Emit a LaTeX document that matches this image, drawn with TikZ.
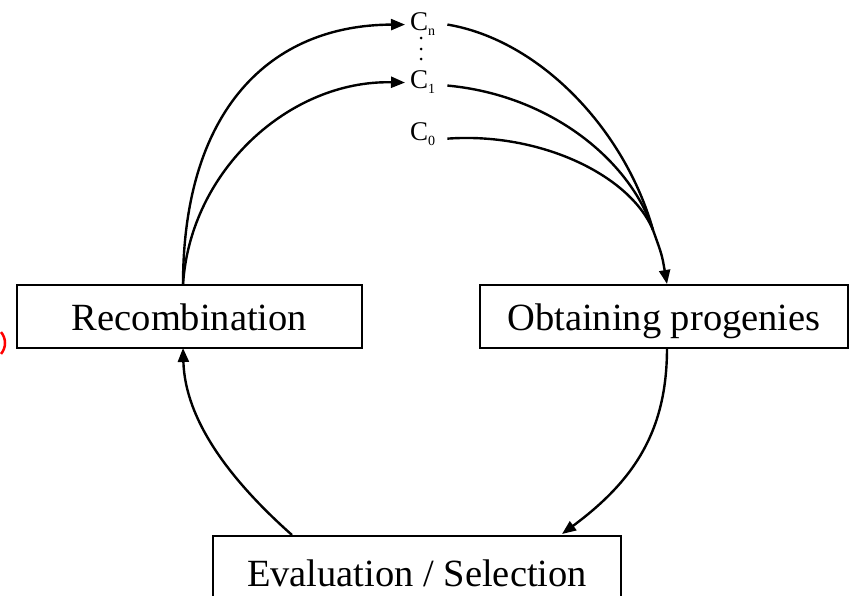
\documentclass[tikz,border=0pt]{standalone}
\usepackage{fontspec}
\setmainfont{Liberation Serif}
\usetikzlibrary{arrows.meta}
\begin{document}
\begin{tikzpicture}[x=1pt,y=-1pt,
  box/.style={draw,line width=2pt,inner sep=0pt,text height=30pt,text depth=3pt,font=\fontsize{38.5}{40}\selectfont},
  clab/.style={inner sep=0pt,anchor=base west,font=\fontsize{27}{28}\selectfont},
  dot/.style={circle,fill,inner sep=0pt,minimum size=3pt},
  conn/.style={line width=2.4pt},
  arr/.style={conn,-{Triangle[length=14pt,width=11pt]}}]
\useasboundingbox (0,0) rectangle (854,595);
\clip (0,0) rectangle (854,595);
% boxes
\node[box,minimum width=345pt,minimum height=63pt] (rec) at (189.5,316.5) {Recombination};
\node[box,minimum width=368pt,minimum height=63pt] (obt) at (664,316.5) {Obtaining progenies};
\node[box,minimum width=408pt,minimum height=85pt,anchor=north,text depth=15pt] (eval) at (417,535) {Evaluation / Selection};
% C labels
\newcommand{\mysub}[1]{\raisebox{-5pt}{\fontsize{14}{14}\selectfont #1}}
\node[clab] (cn) at (410,30) {C\mysub{n}};
\node[clab] (c1) at (410,88) {C\mysub{1}};
\node[clab] (c0) at (410,140) {C\mysub{0}};
\node[dot] (d1) at (421,38) {};
\node[dot] (d2) at (421,49) {};
\node[dot] (d3) at (421,59) {};
% connectors
\coordinate (rtop) at (183,285);
\coordinate (m) at (653,230);
\draw[arr] (rtop) .. controls (183,110) and (270,25) .. ([xshift=-5pt,yshift=-1pt]cn.west);
\draw[arr] (rtop) .. controls (190,170) and (290,80) .. ([xshift=-5pt,yshift=-1pt]c1.west);
\draw[conn] ([xshift=12pt,yshift=-1pt]cn.east) .. controls (540,40) and (625,130) .. (m);
\draw[conn] ([xshift=12pt,yshift=-4pt]c1.east) .. controls (550,95) and (630,160) .. (m);
\draw[conn] ([xshift=12pt,yshift=-5pt]c0.east) .. controls (540,132) and (630,175) .. (m);
\draw[arr] (m) .. controls (662,255) .. ([xshift=3pt]obt.north);
\coordinate (obot) at (667,348);
\coordinate (etr) at (562,534);
\coordinate (etl) at (292,535);
\coordinate (rbot) at (183,348);
\draw[arr] (obot) .. controls (667,430) and (635,480) .. (etr);
\draw[arr] (etl) .. controls (230,480) and (185,420) .. (rbot);
% red fragment at left edge
\draw[red,line width=2.5pt] (-12,343) ++(-40:17) arc (-40:40:17);
\end{tikzpicture}
\end{document}
